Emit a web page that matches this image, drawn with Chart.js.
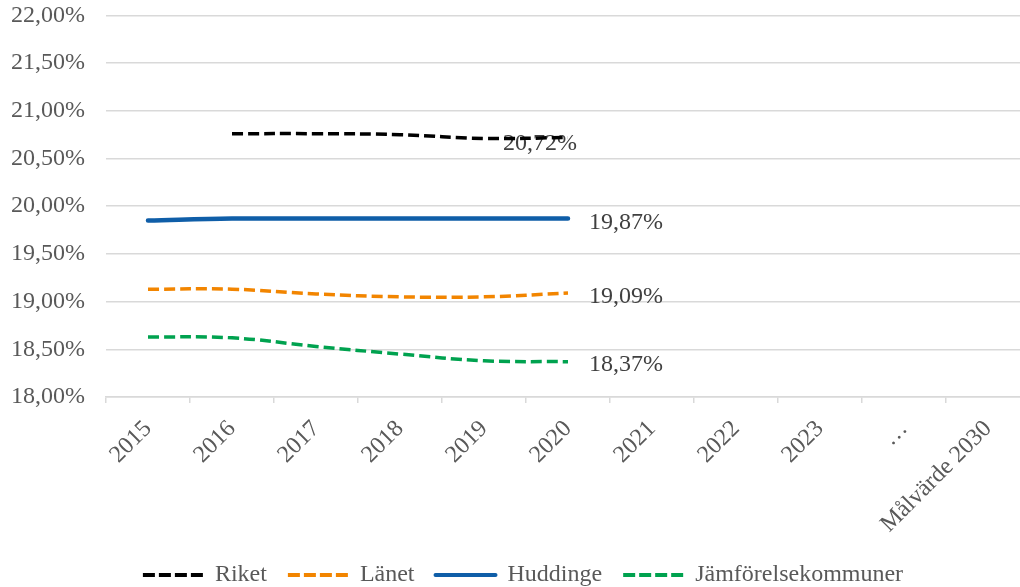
<!DOCTYPE html>
<html>
<head>
<meta charset="utf-8">
<script src="https://cdn.jsdelivr.net/npm/chart.js@4.4.1/dist/chart.umd.min.js"></script>
<style>
  html, body { margin: 0; padding: 0; background: #fff; overflow: hidden; }
  #wrap { width: 1020px; height: 587px; overflow: hidden; position: relative; }
  #chart { position: absolute; left: -20px; top: -20px; }
</style>
</head>
<body>
<div id="wrap"><canvas id="chart" width="1060" height="617"></canvas></div>
<script>
/* =====================
   DATA
===================== */
const years = ["2015", "2016", "2017", "2018", "2019", "2020", "2021", "2022", "2023", "…", "Målvärde 2030"];

const riket = [null, 20.76, 20.76, 20.75, 20.71, 20.72, null, null, null, null, null];
const lanet = [19.13, 19.13, 19.08, 19.05, 19.05, 19.09, null, null, null, null, null];
const huddinge = [19.85, 19.87, 19.87, 19.87, 19.87, 19.87, null, null, null, null, null];
const jamforelse = [18.63, 18.62, 18.53, 18.45, 18.38, 18.37, null, null, null, null, null];

const yTicks = [18, 18.5, 19, 19.5, 20, 20.5, 21, 21.5, 22];

/* =====================
   HELPER
===================== */
const fmt = v => v.toFixed(2).replace(".", ",") + "%";
const FONT = "'Liberation Serif', 'Times New Roman', serif";
const SIZE = 24;

function line(label, data, color, dashed, width) {
  return {
    label,
    data,
    borderColor: color,
    backgroundColor: color,
    borderWidth: width,
    borderDash: dashed ? [11, 5] : [],
    borderCapStyle: dashed ? "butt" : "round",
    pointRadius: 0,
    tension: 0.4,
    spanGaps: false
  };
}

// last-value labels, like Excel's data labels
const endLabels = {
  id: "endLabels",
  beforeDatasetsDraw(chart) {
    const ctx = chart.ctx;
    const offs = [[-65, 6], [21, 4], [21, 4], [21, 3]];
    ctx.save();
    ctx.font = SIZE + "px " + FONT;
    ctx.fillStyle = "#404040";
    ctx.textAlign = "left";
    ctx.textBaseline = "middle";
    chart.data.datasets.forEach((ds, i) => {
      let last = -1;
      ds.data.forEach((v, j) => { if (v !== null) last = j; });
      if (last < 0) return;
      const pt = chart.getDatasetMeta(i).data[last];
      ctx.fillText(fmt(ds.data[last]), pt.x + offs[i][0], pt.y + offs[i][1]);
    });
    ctx.restore();
  }
};

// nudge legend a bit right, Excel centres it slightly off the canvas middle
const legendShift = {
  id: "legendShift",
  afterLayout(chart) {
    chart.legend.left += 13;
    chart.legend.right += 13;
  }
};

/* =====================
   CHART
===================== */
new Chart(document.getElementById("chart"), {
  type: "line",
  data: {
    labels: years,
    datasets: [
      line("Riket", riket, "#000000", true, 3.5),
      line("Länet", lanet, "#F28500", true, 3.5),
      line("Huddinge", huddinge, "#0F5EA8", false, 4.5),
      line("Jämförelsekommuner", jamforelse, "#00A24F", true, 3.5)
    ]
  },
  options: {
    responsive: false,
    animation: false,
    layout: { padding: { left: 10, right: 10, top: 0, bottom: 0 } },
    plugins: {
      tooltip: { enabled: false },
      legend: {
        position: "bottom",
        labels: {
          font: { family: FONT, size: SIZE },
          color: "#595959",
          usePointStyle: true,
          pointStyle: "line",
          pointStyleWidth: 60,
          padding: 21,
          generateLabels: chart =>
            Chart.defaults.plugins.legend.labels.generateLabels(chart).map((l, i) => {
              const ds = chart.data.datasets[i];
              return Object.assign(l, {
                lineDash: ds.borderDash.length ? [12, 4] : [],
                lineWidth: 4,
                strokeStyle: ds.borderColor,
                fillStyle: ds.borderColor,
                lineCap: ds.borderCapStyle
              });
            })
        }
      }
    },
    scales: {
      x: {
        offset: true,
        afterFit: axis => { axis.height = 145; },
        grid: {
          offset: true,
          drawOnChartArea: false,
          drawTicks: true,
          tickLength: 6,
          color: "#D9D9D9",
          lineWidth: 1.5
        },
        border: { color: "#D9D9D9", width: 1.5 },
        ticks: {
          font: { family: FONT, size: SIZE },
          color: "#595959",
          maxRotation: 45,
          minRotation: 45,
          autoSkip: false,
          padding: 12
        }
      },
      y: {
        min: 18,
        max: 22,
        afterBuildTicks: axis => { axis.ticks = yTicks.map(v => ({ value: v })); },
        grid: { color: "#D9D9D9", lineWidth: 1.5, drawTicks: false },
        border: { display: false },
        ticks: {
          font: { family: FONT, size: SIZE },
          color: "#595959",
          padding: 21,
          callback: v => fmt(v)
        }
      }
    }
  },
  plugins: [endLabels, legendShift]
});
</script>
</body>
</html>
